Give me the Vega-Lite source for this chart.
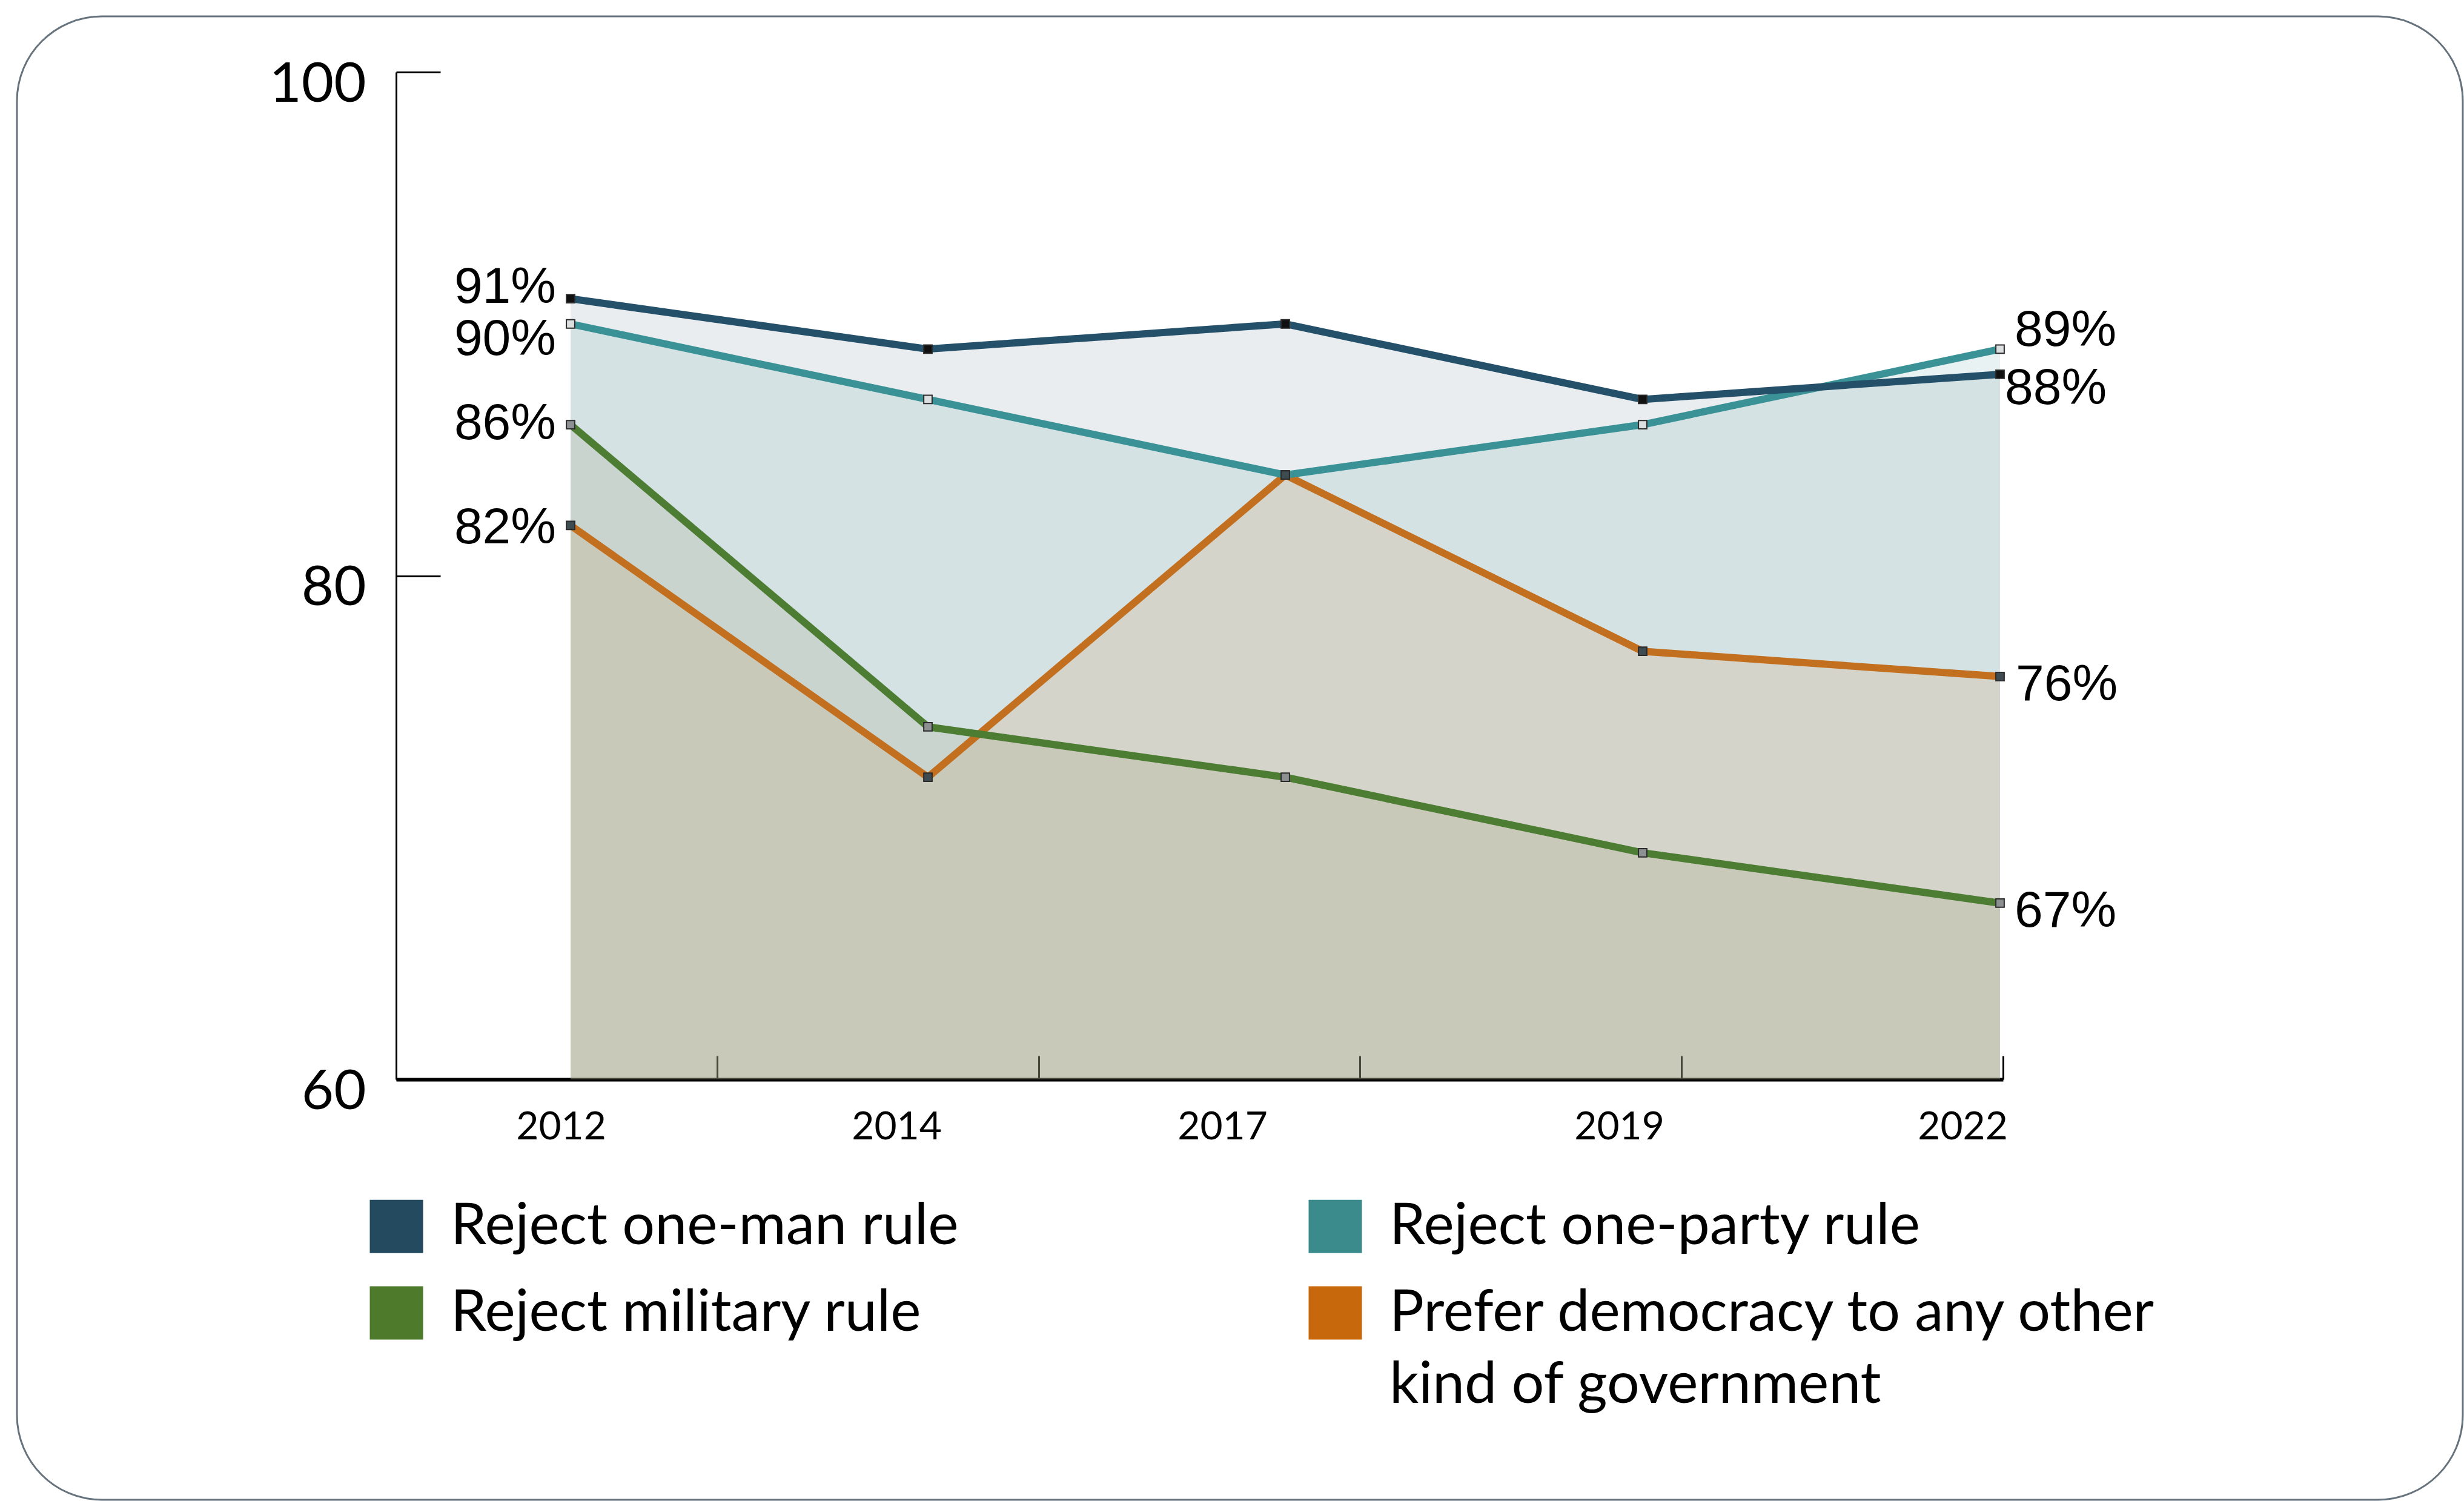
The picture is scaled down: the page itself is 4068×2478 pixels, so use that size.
{
  "$schema": "https://vega.github.io/schema/vega-lite/v6.json",
  "width": 4038,
  "height": 2449,
  "autosize": {"type": "none"},
  "padding": {"left": 28, "top": 27, "right": 2, "bottom": 2},
  "background": "white",
  "config": {
    "view": {"stroke": "#66727c", "strokeWidth": 3, "cornerRadius": 140},
    "style": {"guide-label": {"lineHeight": 119}}
  },
  "data": {
    "values": [
      {"series": "Reject one-man rule", "year": 2012, "value": 91},
      {"series": "Reject one-man rule", "year": 2014, "value": 89},
      {"series": "Reject one-man rule", "year": 2017, "value": 90},
      {"series": "Reject one-man rule", "year": 2019, "value": 87},
      {"series": "Reject one-man rule", "year": 2022, "value": 88},
      {"series": "Reject one-party rule", "year": 2012, "value": 90},
      {"series": "Reject one-party rule", "year": 2014, "value": 87},
      {"series": "Reject one-party rule", "year": 2017, "value": 84},
      {"series": "Reject one-party rule", "year": 2019, "value": 86},
      {"series": "Reject one-party rule", "year": 2022, "value": 89},
      {"series": "Reject military rule", "year": 2012, "value": 86},
      {"series": "Reject military rule", "year": 2014, "value": 74},
      {"series": "Reject military rule", "year": 2017, "value": 72},
      {"series": "Reject military rule", "year": 2019, "value": 69},
      {"series": "Reject military rule", "year": 2022, "value": 67},
      {"series": "Prefer democracy to any other kind of government", "year": 2012, "value": 82},
      {"series": "Prefer democracy to any other kind of government", "year": 2014, "value": 72},
      {"series": "Prefer democracy to any other kind of government", "year": 2017, "value": 84},
      {"series": "Prefer democracy to any other kind of government", "year": 2019, "value": 77},
      {"series": "Prefer democracy to any other kind of government", "year": 2022, "value": 76}
    ]
  },
  "transform": [{"calculate": "datum.value + '%'", "as": "label"}],
  "layer": [
    {
      "encoding": {
        "x": {
          "field": "year", "type": "ordinal",
          "scale": {"type": "point", "range": [914, 3274], "padding": 0},
          "axis": {
            "orient": "bottom", "offset": -694, "domain": false, "ticks": false, "grid": false,
            "labelFont": "Lato", "labelFontSize": 64, "labelColor": "black", "labelAngle": 0,
            "labelBaseline": "top", "labelPadding": 47,
            "labelOffset": {"expr": "datum.label == '2012' ? -16 : datum.label == '2014' ? -52 : datum.label == '2017' ? -104 : datum.label == '2019' ? -39 : -62"},
            "title": null
          }
        },
        "y": {
          "field": "value", "type": "quantitative",
          "scale": {"domain": [60, 100], "range": [1755, 92], "nice": false, "zero": false},
          "axis": {
            "orient": "left", "offset": -626, "values": [60, 80, 100], "grid": false,
            "tickSize": -73, "tickWidth": 3, "tickColor": "black",
            "domainColor": "black", "domainWidth": 3,
            "labelFont": "Lato", "labelFontSize": 92, "labelColor": "black",
            "labelPadding": 123, "labelOffset": 20, "labelBaseline": "middle",
            "title": null
          }
        }
      },
      "layer": [
        {"transform": [{"filter": "datum.series == 'Reject one-man rule'"}],
         "mark": {"type": "area", "fill": "#264d63", "opacity": 0.1}, "encoding": {"y2": {"datum": 60}}},
        {"transform": [{"filter": "datum.series == 'Reject one-party rule'"}],
         "mark": {"type": "area", "fill": "#3f8f93", "opacity": 0.115}, "encoding": {"y2": {"datum": 60}}},
        {"transform": [{"filter": "datum.series == 'Prefer democracy to any other kind of government'"}],
         "mark": {"type": "area", "fill": "#d6a263", "opacity": 0.2}, "encoding": {"y2": {"datum": 60}}},
        {"transform": [{"filter": "datum.series == 'Reject military rule'"}],
         "mark": {"type": "area", "fill": "#999f7b", "opacity": 0.2}, "encoding": {"y2": {"datum": 60}}},

        {"transform": [{"filter": "datum.series == 'Prefer democracy to any other kind of government'"}],
         "mark": {"type": "line", "stroke": "#c2701f", "strokeWidth": 12}, "encoding": {}},
        {"transform": [{"filter": "datum.series == 'Reject military rule'"}],
         "mark": {"type": "line", "stroke": "#4c7d33", "strokeWidth": 12}, "encoding": {}},
        {"transform": [{"filter": "datum.series == 'Reject one-party rule'"}],
         "mark": {"type": "line", "stroke": "#3a9296", "strokeWidth": 12}, "encoding": {}},
        {"transform": [{"filter": "datum.series == 'Reject one-man rule'"}],
         "mark": {"type": "line", "stroke": "#24506a", "strokeWidth": 12}, "encoding": {}},

        {
          "mark": {"type": "square", "size": 0, "opacity": 1, "filled": true, "strokeWidth": 0},
          "encoding": {
            "color": {
              "field": "series", "type": "nominal",
              "scale": {
                "domain": ["Reject one-man rule", "Reject one-party rule", "Reject military rule", "Prefer democracy to any other kind of government"],
                "range": ["#234a5f", "#3b8a8c", "#4e7a2b", "#c8680c"]
              },
              "legend": {
                "orient": "none", "legendX": 579, "legendY": 1950, "columns": 2, "direction": "horizontal",
                "symbolType": "square", "symbolSize": 7744, "symbolStrokeWidth": 0, "symbolOpacity": 1,
                "labelFont": "Lato", "labelFontSize": 95, "labelColor": "black",
                "labelOffset": 42, "labelLimit": 3000, "columnPadding": 574, "rowPadding": 47,
                "title": null,
                "labelExpr": "datum.label == 'Prefer democracy to any other kind of government' ? ['Prefer democracy to any other', 'kind of government'] : datum.label"
              }
            }
          }
        },

        {
          "mark": {"type": "square", "size": 190, "stroke": "#2b2b2b", "strokeWidth": 2, "opacity": 1, "filled": true},
          "encoding": {
            "fill": {
              "field": "series", "type": "nominal",
              "scale": {
                "domain": ["Reject one-man rule", "Reject one-party rule", "Reject military rule", "Prefer democracy to any other kind of government"],
                "range": ["#111111", "#dcdfdf", "#8c9090", "#3e4b50"]
              },
              "legend": null
            }
          }
        },

        {"transform": [{"filter": "datum.series == 'Reject one-man rule' && datum.year == 2012"}],
         "mark": {"type": "text", "align": "right", "baseline": "middle", "dx": -24, "dy": -18, "font": "Liberation Sans", "fontSize": 84, "color": "black"},
         "encoding": {"text": {"field": "label"}}},
        {"transform": [{"filter": "datum.series == 'Reject one-party rule' && datum.year == 2012"}],
         "mark": {"type": "text", "align": "right", "baseline": "middle", "dx": -24, "dy": 26, "font": "Liberation Sans", "fontSize": 84, "color": "black"},
         "encoding": {"text": {"field": "label"}}},
        {"transform": [{"filter": "datum.series == 'Reject military rule' && datum.year == 2012"}],
         "mark": {"type": "text", "align": "right", "baseline": "middle", "dx": -24, "dy": -1, "font": "Liberation Sans", "fontSize": 84, "color": "black"},
         "encoding": {"text": {"field": "label"}}},
        {"transform": [{"filter": "datum.series == 'Prefer democracy to any other kind of government' && datum.year == 2012"}],
         "mark": {"type": "text", "align": "right", "baseline": "middle", "dx": -24, "dy": 5, "font": "Liberation Sans", "fontSize": 84, "color": "black"},
         "encoding": {"text": {"field": "label"}}},
        {"transform": [{"filter": "datum.series == 'Reject one-party rule' && datum.year == 2022"}],
         "mark": {"type": "text", "align": "left", "baseline": "middle", "dx": 24, "dy": -30, "font": "Liberation Sans", "fontSize": 84, "color": "black"},
         "encoding": {"text": {"field": "label"}}},
        {"transform": [{"filter": "datum.series == 'Reject one-man rule' && datum.year == 2022"}],
         "mark": {"type": "text", "align": "left", "baseline": "middle", "dx": 8, "dy": 24, "font": "Liberation Sans", "fontSize": 84, "color": "black"},
         "encoding": {"text": {"field": "label"}}},
        {"transform": [{"filter": "datum.series == 'Prefer democracy to any other kind of government' && datum.year == 2022"}],
         "mark": {"type": "text", "align": "left", "baseline": "middle", "dx": 26, "dy": 14, "font": "Liberation Sans", "fontSize": 84, "color": "black"},
         "encoding": {"text": {"field": "label"}}},
        {"transform": [{"filter": "datum.series == 'Reject military rule' && datum.year == 2022"}],
         "mark": {"type": "text", "align": "left", "baseline": "middle", "dx": 24, "dy": 14, "font": "Liberation Sans", "fontSize": 84, "color": "black"},
         "encoding": {"text": {"field": "label"}}}
      ]
    },
    {
      "mark": {"type": "point", "opacity": 0},
      "encoding": {
        "x": {
          "field": "year", "type": "ordinal",
          "scale": {"type": "band", "range": [626, 3279], "paddingInner": 0, "paddingOuter": 0},
          "axis": {
            "orient": "bottom", "offset": -694, "labels": false, "ticks": true,
            "tickSize": -39, "tickWidth": 3, "tickColor": "black", "bandPosition": 1,
            "domain": true, "domainWidth": 6, "domainColor": "black", "grid": false, "title": null
          }
        }
      }
    }
  ],
  "resolve": {"scale": {"x": "independent"}, "axis": {"x": "independent"}}
}
